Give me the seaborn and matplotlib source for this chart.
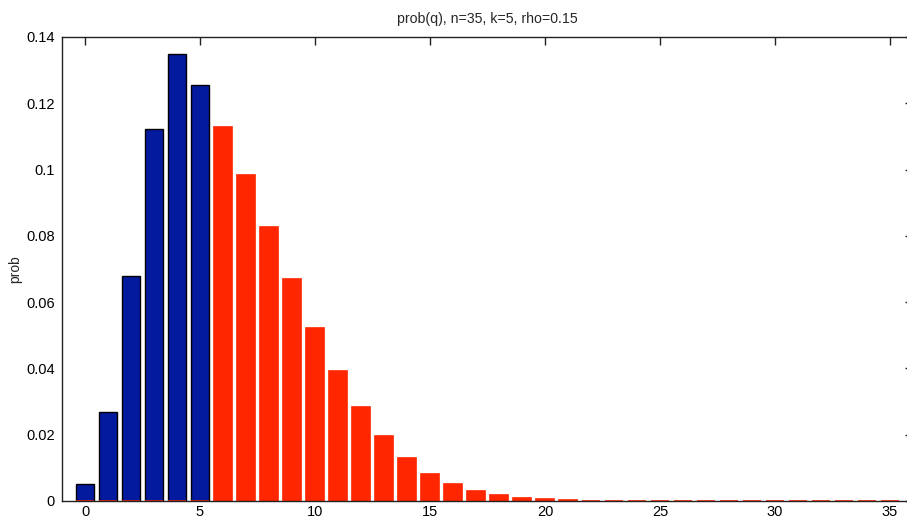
import numpy as np
import pandas as pd
import matplotlib
matplotlib.use("Agg")
import matplotlib.pyplot as plt
import seaborn as sns

q = list(range(36))
blue_vals = [0.0051, 0.0268, 0.0680, 0.1123, 0.1348, 0.1254]
red_vals = [0, 0, 0, 0, 0, 0,
            0.1129, 0.0983, 0.0826, 0.0670, 0.0522, 0.0392, 0.0284, 0.0196,
            0.0130, 0.0082, 0.0051, 0.0030, 0.0018, 0.0009, 0.0005, 0.0002,
            0, 0, 0, 0, 0, 0, 0, 0, 0, 0, 0, 0, 0, 0]
title = "prob(q), n=35, k=5, rho=0.15"
ylabel = "prob"
xticks = [0, 5, 10, 15, 20, 25, 30, 35]
yticks = [0, 0.02, 0.04, 0.06, 0.08, 0.1, 0.12, 0.14]
ytick_labels = ["0", "0.02", "0.04", "0.06", "0.08", "0.1", "0.12", "0.14"]

sns.set_style("white")
plt.rcParams['font.family'] = ['Liberation Sans', 'DejaVu Sans']

fig = plt.figure(figsize=(9.07, 5.17), dpi=100)
ax = fig.add_axes([62 / 907, 16 / 517, (913 - 62) / 907, (501 - 37) / 517])

df_blue = pd.DataFrame({"q": q[:len(blue_vals)], "p": blue_vals})
df_red = pd.DataFrame({"q": q, "p": red_vals})

sns.barplot(data=df_blue, x="q", y="p", order=q, color="#041A9E", saturation=1,
            edgecolor="black", linewidth=1.0, width=0.8, ax=ax, errorbar=None)
sns.barplot(data=df_red, x="q", y="p", order=q, color="#FF2600", saturation=1,
            edgecolor="#FF2600", linewidth=1.2, width=0.8, ax=ax, errorbar=None)

ax.set_xlim(-1, 36)
ax.set_ylim(0, 0.14)
ax.set_xticks(xticks)
ax.set_xticklabels([str(t) for t in xticks])
ax.set_yticks(yticks)
ax.set_yticklabels(ytick_labels)
ax.tick_params(direction="in", length=6, width=1, top=True, right=True,
               labelsize=10.5, colors="#222222", labelcolor="black", pad=5)
ax.tick_params(axis="x", pad=3)
for s in ax.spines.values():
    s.set_color("#222222")
    s.set_linewidth(1.0)
ax.set_xlabel("")
ax.set_ylabel(ylabel, fontsize=10)
ax.yaxis.set_label_coords(-0.047, 0.5)
ax.set_title(title, fontsize=10.2, pad=10)

fig.savefig("out.png", dpi=100)
